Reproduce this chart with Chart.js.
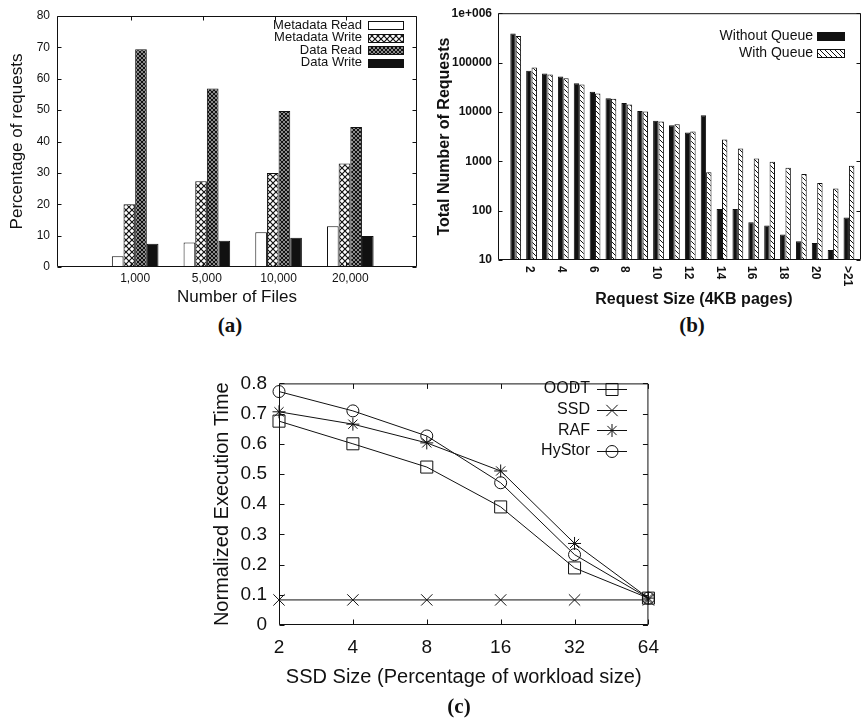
<!DOCTYPE html>
<html>
<head>
<meta charset="utf-8">
<script src="https://cdn.jsdelivr.net/npm/chart.js@4.4.1/dist/chart.umd.min.js"></script>
<style>
  body { margin: 0; background: #fff; }
  #wrap { position: relative; width: 862px; height: 722px; overflow: hidden; background: #fff; }
  canvas { position: absolute; }
  .cap { position: absolute; font: bold 21px "Liberation Serif", "Times New Roman", serif; color: #111; transform: translate(-50%, -50%); }
</style>
</head>
<body>
<div id="wrap">
  <canvas id="chartA" width="430" height="310" style="left:0;top:0"></canvas>
  <canvas id="chartB" width="432" height="310" style="left:430px;top:0"></canvas>
  <canvas id="chartC" width="470" height="335" style="left:200px;top:360px"></canvas>
  <div class="cap" style="left:230px;top:325px">(a)</div>
  <div class="cap" style="left:692px;top:325px">(b)</div>
  <div class="cap" style="left:459px;top:706px">(c)</div>
</div>
<script>
// (a) share of requests by number of files
const filesCats = ['1,000', '5,000', '10,000', '20,000'];
const metaRead = [3.4, 7.8, 11.1, 13.0];
const metaWrite = [20.0, 27.3, 30.0, 33.0];
const dataRead = [69.4, 56.9, 49.7, 44.6];
const dataWrite = [7.4, 8.4, 9.3, 9.9];

// (b) request size histogram
const sizeCats = ['1', '2', '3', '4', '5', '6', '7', '8', '9', '10', '11',
  '12', '13', '14', '15', '16', '17', '18', '19', '20', '21', '>21'];
const withoutQueue = [390000, 68000, 60000, 52000, 38000, 25500, 19000, 15100, 10400, 6600, 5400,
  3850, 8600, 108, 108, 58, 50, 33, 24, 22, 16, 73];
const withQueue = [347000, 79500, 57400, 48300, 36000, 23700, 18400, 14200, 10200, 6400, 5600,
  4000, 600, 2770, 1820, 1140, 980, 740, 550, 363, 282, 810];
const countTicks = [10, 100, 1000, 10000, 100000, 1000000];
const countTickLabels = ['10', '100', '1000', '10000', '100000', '1e+006'];

// (c) normalized execution time
const ssdSizes = ['2', '4', '8', '16', '32', '64'];
const oodt = [0.675, 0.600, 0.523, 0.391, 0.189, 0.089];
const ssd = [0.083, 0.083, 0.083, 0.083, 0.083, 0.083];
const raf = [0.706, 0.665, 0.603, 0.510, 0.270, 0.089];
const hystor = [0.773, 0.709, 0.626, 0.471, 0.233, 0.089];

Chart.defaults.font.family = '"Liberation Sans", Arial, Helvetica, sans-serif';
Chart.defaults.color = '#111';

const ink = '#111';
const toXY = (vals, start) => vals.map((v, i) => ({ x: i + start, y: v }));

function pattern(size, draw) {
  const c = document.createElement('canvas');
  c.width = c.height = size;
  const g = c.getContext('2d');
  draw(g, size);
  return g.createPattern(c, 'repeat');
}

const crossHatch = pattern(6, (g, s) => {
  g.fillStyle = '#fff';
  g.fillRect(0, 0, s, s);
  g.strokeStyle = ink;
  g.lineWidth = 1.2;
  g.beginPath();
  g.moveTo(0, 0); g.lineTo(s, s);
  g.moveTo(s, 0); g.lineTo(0, s);
  g.stroke();
});
const denseHatch = pattern(4, (g, s) => {
  g.fillStyle = '#8a8a8a';
  g.fillRect(0, 0, s, s);
  g.strokeStyle = ink;
  g.lineWidth = 1;
  g.beginPath();
  g.moveTo(0, 0); g.lineTo(s, s);
  g.moveTo(s, 0); g.lineTo(0, s);
  g.stroke();
});
const diagHatch = pattern(5, (g, s) => {
  g.fillStyle = '#fff';
  g.fillRect(0, 0, s, s);
  g.strokeStyle = ink;
  g.lineWidth = 1;
  g.beginPath();
  g.moveTo(-1, -1); g.lineTo(s + 1, s + 1);
  g.moveTo(-1, s - 1); g.lineTo(1, s + 1);
  g.moveTo(s - 1, -1); g.lineTo(s + 1, 1);
  g.stroke();
});

// gnuplot style box with inward ticks
const frame = {
  id: 'frame',
  afterDraw(chart, args, o) {
    const { ctx, chartArea: a, scales } = chart;
    const L = a.left + 0.5, R = a.right - 0.5, T = a.top + 0.5, B = a.bottom - 0.5;
    const n = o.len || 4;
    ctx.save();
    ctx.strokeStyle = ink;
    ctx.lineWidth = 1;
    ctx.beginPath();
    ctx.rect(L, T, R - L, B - T);
    scales.y.ticks.forEach((t, i) => {
      const y = Math.round(scales.y.getPixelForTick(i)) + 0.5;
      ctx.moveTo(L, y); ctx.lineTo(L + n, y);
      ctx.moveTo(R, y); ctx.lineTo(R - n, y);
    });
    if (o.xTicks) {
      scales.x.ticks.forEach((t, i) => {
        const x = Math.round(scales.x.getPixelForTick(i) + (o.xShift || 0)) + 0.5;
        ctx.moveTo(x, B); ctx.lineTo(x, B - n);
        ctx.moveTo(x, T); ctx.lineTo(x, T + n);
      });
    }
    ctx.stroke();
    ctx.restore();
  }
};

// legend with text on the left and key on the right
const sideLegend = {
  id: 'sideLegend',
  afterDraw(chart, args, o) {
    const ctx = chart.ctx;
    ctx.save();
    ctx.font = o.font;
    ctx.textAlign = 'right';
    ctx.textBaseline = 'middle';
    chart.data.datasets.forEach((ds, i) => {
      const y = o.y + i * o.gap;
      ctx.fillStyle = ink;
      ctx.fillText(ds.label, o.textX, y);
      ctx.strokeStyle = ink;
      ctx.lineWidth = 1;
      if (o.kind === 'box') {
        const top = Math.round(y - o.boxH / 2);
        ctx.fillStyle = ds.backgroundColor;
        ctx.fillRect(o.boxX, top, o.boxW, o.boxH);
        ctx.strokeRect(o.boxX + 0.5, top + 0.5, o.boxW, o.boxH);
      } else {
        const yy = Math.round(y) + 0.5;
        ctx.beginPath();
        ctx.moveTo(o.boxX, yy);
        ctx.lineTo(o.boxX + o.boxW, yy);
        ctx.stroke();
        ctx.fillStyle = 'rgba(0,0,0,0)';
        Chart.helpers.drawPoint(ctx, {
          pointStyle: ds.pointStyle, rotation: 0, radius: ds.pointRadius, borderWidth: 1
        }, o.boxX + o.boxW / 2, yy);
      }
    });
    ctx.restore();
  }
};

// rotated x labels and offset title for (b)
const sideLabels = {
  id: 'sideLabels',
  afterDraw(chart, args, o) {
    const { ctx, scales: { x } } = chart;
    ctx.save();
    ctx.fillStyle = ink;
    ctx.font = o.font;
    sizeCats.forEach((lab, i) => {
      if (i % 2 === 0) return;
      ctx.save();
      ctx.translate(x.getPixelForValue(i) + o.dx, o.y);
      ctx.rotate(Math.PI / 2);
      ctx.textAlign = 'left';
      ctx.textBaseline = 'middle';
      ctx.fillText(lab, 0, 0);
      ctx.restore();
    });
    ctx.font = o.titleFont;
    ctx.textAlign = 'center';
    ctx.textBaseline = 'middle';
    ctx.fillText(o.title, o.titleX, o.titleY);
    ctx.restore();
  }
};

const noGrid = { display: false, drawTicks: false };
const noBorder = { display: false };

// (a)
new Chart(document.getElementById('chartA'), {
  type: 'bar',
  data: {
    datasets: [
      { label: 'Metadata Read', data: toXY(metaRead, 1), backgroundColor: '#fff' },
      { label: 'Metadata Write', data: toXY(metaWrite, 1), backgroundColor: crossHatch },
      { label: 'Data Read', data: toXY(dataRead, 1), backgroundColor: denseHatch },
      { label: 'Data Write', data: toXY(dataWrite, 1), backgroundColor: ink },
    ],
  },
  options: {
    responsive: false,
    animation: false,
    devicePixelRatio: 1,
    layout: { padding: { top: 16, right: 13, left: 0, bottom: 0 } },
    datasets: { bar: { borderColor: ink, borderWidth: 1, categoryPercentage: 0.65, barPercentage: 1 } },
    scales: {
      x: {
        type: 'linear', min: -0.09, max: 4.93, offset: false,
        grid: noGrid, border: noBorder,
        afterBuildTicks: (s) => { s.ticks = filesCats.map((c, i) => ({ value: i + 1 })); },
        ticks: { callback: (v) => filesCats[v - 1], font: { size: 12 }, padding: 4, maxRotation: 0, autoSkip: false },
        title: { display: true, text: 'Number of Files', font: { size: 17 }, padding: { top: 0, bottom: 2 } },
        afterFit: (s) => { s.height = 43; },
      },
      y: {
        min: 0, max: 80,
        grid: noGrid, border: noBorder,
        ticks: { stepSize: 10, font: { size: 12 }, padding: 7 },
        title: { display: true, text: 'Percentage of requests', font: { size: 17 }, padding: { top: 7, bottom: 0 } },
        afterFit: (s) => { s.width = 57; },
      },
    },
    plugins: {
      legend: { display: false },
      tooltip: { enabled: false },
      frame: { len: 4, xTicks: true, xShift: -4 },
      sideLegend: { kind: 'box', font: '13px "Liberation Sans", Arial, sans-serif',
        textX: 362, y: 25, gap: 12.6, boxX: 368, boxW: 35, boxH: 8 },
    },
  },
  plugins: [frame, sideLegend],
});

// (b)
new Chart(document.getElementById('chartB'), {
  type: 'bar',
  data: {
    datasets: [
      { label: 'Without Queue', data: toXY(withoutQueue, 0), backgroundColor: ink },
      { label: 'With Queue', data: toXY(withQueue, 0), backgroundColor: diagHatch },
    ],
  },
  options: {
    responsive: false,
    animation: false,
    devicePixelRatio: 1,
    layout: { padding: { top: 13, right: 1, left: 0, bottom: 0 } },
    datasets: { bar: { borderColor: ink, borderWidth: 1, categoryPercentage: 0.68, barPercentage: 1 } },
    scales: {
      x: {
        type: 'linear', min: -1.115, max: 21.76, offset: false,
        grid: noGrid, border: noBorder,
        afterBuildTicks: (s) => { s.ticks = sizeCats.map((c, i) => ({ value: i })); },
        ticks: { display: false },
        afterFit: (s) => { s.height = 50; },
      },
      y: {
        type: 'logarithmic', min: 10, max: 1000000,
        grid: noGrid, border: noBorder,
        afterBuildTicks: (s) => { s.ticks = countTicks.map((v) => ({ value: v })); },
        ticks: { callback: (v, i) => countTickLabels[i], font: { size: 12, weight: 'bold' }, padding: 6, autoSkip: false },
        title: { display: true, text: 'Total Number of Requests', font: { size: 16, weight: 'bold' }, padding: { top: 5, bottom: 0 } },
        afterFit: (s) => { s.width = 68; },
      },
    },
    plugins: {
      legend: { display: false },
      tooltip: { enabled: false },
      frame: { len: 4 },
      sideLegend: { kind: 'box', font: '14px "Liberation Sans", Arial, sans-serif',
        textX: 383, y: 36, gap: 17.3, boxX: 387, boxW: 27, boxH: 8 },
      sideLabels: { font: 'bold 12px "Liberation Sans", Arial, sans-serif', dx: -2, y: 266,
        title: 'Request Size (4KB pages)', titleFont: 'bold 16px "Liberation Sans", Arial, sans-serif',
        titleX: 264, titleY: 300 },
    },
  },
  plugins: [frame, sideLegend, sideLabels],
});

// (c)
const lineStyle = { borderColor: ink, borderWidth: 1, pointBorderColor: ink, pointBorderWidth: 1,
  pointBackgroundColor: 'rgba(0,0,0,0)', tension: 0, clip: false };
new Chart(document.getElementById('chartC'), {
  type: 'line',
  data: {
    labels: ssdSizes,
    datasets: [
      { label: 'OODT', data: oodt, pointStyle: 'rect', pointRadius: 8.5, ...lineStyle },
      { label: 'SSD', data: ssd, pointStyle: 'crossRot', pointRadius: 8, ...lineStyle },
      { label: 'RAF', data: raf, pointStyle: 'star', pointRadius: 6.5, ...lineStyle },
      { label: 'HyStor', data: hystor, pointStyle: 'circle', pointRadius: 6, ...lineStyle },
    ],
  },
  options: {
    responsive: false,
    animation: false,
    devicePixelRatio: 1,
    layout: { padding: { top: 15, right: 21, left: 0, bottom: 0 } },
    scales: {
      x: {
        offset: false,
        grid: noGrid, border: noBorder,
        ticks: { font: { size: 19 }, padding: 11, maxRotation: 0, autoSkip: false },
        title: { display: true, text: 'SSD Size (Percentage of workload size)', font: { size: 20 }, padding: { top: 0, bottom: 6 } },
        afterFit: (s) => { s.height = 70; },
      },
      y: {
        min: 0, max: 0.8,
        grid: noGrid, border: noBorder,
        ticks: { stepSize: 0.1, font: { size: 19 }, padding: 12 },
        title: { display: true, text: 'Normalized Execution Time', font: { size: 20 }, padding: { top: 10, bottom: 0 } },
        afterFit: (s) => { s.width = 79; },
      },
    },
    plugins: {
      legend: { display: false },
      tooltip: { enabled: false },
      frame: { len: 5, xTicks: true },
      sideLegend: { kind: 'line', font: '16px "Liberation Sans", Arial, sans-serif',
        textX: 390, y: 29, gap: 20.6, boxX: 397, boxW: 30 },
    },
  },
  plugins: [frame, sideLegend],
});
</script>
</body>
</html>
